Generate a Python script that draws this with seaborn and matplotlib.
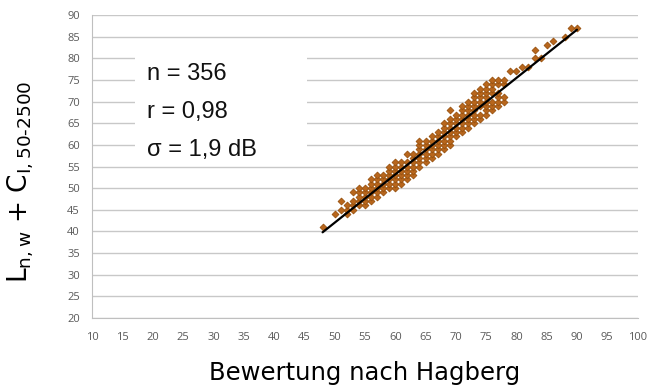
import matplotlib
matplotlib.use("Agg")
import numpy as np
import pandas as pd
import seaborn as sns
import matplotlib.pyplot as plt
from matplotlib.patches import Rectangle

# ---- data (overlapping duplicates not repeated) ----
hagberg = [48,
           50,
           51, 51,
           52, 52, 52,
           53, 53, 53, 53,
           54, 54, 54, 54, 54,
           55, 55, 55, 55, 55,
           56, 56, 56, 56, 56, 56,
           57, 57, 57, 57, 57, 57,
           58, 58, 58, 58, 58,
           59, 59, 59, 59, 59, 59,
           60, 60, 60, 60, 60, 60, 60,
           61, 61, 61, 61, 61, 61,
           62, 62, 62, 62, 62, 62,
           63, 63, 63, 63, 63, 63,
           64, 64, 64, 64, 64, 64, 64,
           65, 65, 65, 65, 65, 65,
           66, 66, 66, 66, 66, 66,
           67, 67, 67, 67, 67, 67,
           68, 68, 68, 68, 68, 68, 68,
           69, 69, 69, 69, 69, 69, 69, 69,
           70, 70, 70, 70, 70, 70,
           71, 71, 71, 71, 71, 71, 71,
           72, 72, 72, 72, 72, 72, 72,
           73, 73, 73, 73, 73, 73, 73, 73,
           74, 74, 74, 74, 74, 74, 74,
           75, 75, 75, 75, 75, 75, 75, 75,
           76, 76, 76, 76, 76, 76, 76,
           77, 77, 77, 77, 77, 77,
           78, 78, 78, 78,
           79, 80, 81, 82,
           83, 83,
           84, 85, 86, 88, 89, 90]
ln_ci = [41,
         44,
         45, 47,
         44, 45, 46,
         45, 46, 47, 49,
         46, 47, 48, 49, 50,
         46, 47, 48, 49, 50,
         47, 48, 49, 50, 51, 52,
         48, 49, 50, 51, 52, 53,
         49, 50, 51, 52, 53,
         50, 51, 52, 53, 54, 55,
         50, 51, 52, 53, 54, 55, 56,
         51, 52, 53, 54, 55, 56,
         52, 53, 54, 55, 56, 58,
         53, 54, 55, 56, 57, 58,
         55, 56, 57, 58, 59, 60, 61,
         56, 57, 58, 59, 60, 61,
         57, 58, 59, 60, 61, 62,
         58, 59, 60, 61, 62, 63,
         59, 60, 61, 62, 63, 64, 65,
         60, 61, 62, 63, 64, 65, 66, 68,
         62, 63, 64, 65, 66, 67,
         63, 64, 65, 66, 67, 68, 69,
         64, 65, 66, 67, 68, 69, 70,
         65, 66, 67, 68, 69, 70, 71, 72,
         66, 67, 69, 70, 71, 72, 73,
         67, 68, 69, 70, 71, 72, 73, 74,
         68, 69, 70, 72, 73, 74, 75,
         69, 70, 71, 72, 74, 75,
         70, 71, 74, 75,
         77, 77, 78, 78,
         80, 82,
         80, 83, 84, 85, 87, 87]
fit_x = [48, 90]
fit_y = [39.8, 86.6]
x_ticks = list(range(10, 101, 5))
y_ticks = list(range(20, 91, 5))
stats_lines = ["n = 356", "r = 0,98", "σ = 1,9 dB"]

df = pd.DataFrame({"x": hagberg, "y": ln_ci})
fit = pd.DataFrame({"x": fit_x, "y": fit_y})

sns.set_theme(style="white")
plt.rcParams["font.family"] = ["DejaVu Sans"]

fig = plt.figure(figsize=(6.48, 3.85), dpi=100)
ax = fig.add_axes([0.1427, 0.174, 0.9838 - 0.1427, 0.961 - 0.174])

ax.set_xlim(10, 100)
ax.set_ylim(20, 90)
ax.set_xticks(x_ticks)
ax.set_yticks(y_ticks)
ax.yaxis.grid(True, color="#c8c8c8", linewidth=1.0)
ax.xaxis.grid(False)
ax.set_axisbelow(True)

# white box behind the statistics
ax.add_patch(Rectangle((17.0, 55.9), 28.5, 28.4, facecolor="white",
                       edgecolor="none", zorder=1.5))

sns.scatterplot(data=df, x="x", y="y", ax=ax, marker="D", s=12,
                color="#b8661c", edgecolor="#98510f", linewidth=0.6,
                zorder=3, legend=False)
sns.lineplot(data=fit, x="x", y="y", ax=ax, color="black", linewidth=1.6,
             zorder=4)

for lab in ax.get_xticklabels() + ax.get_yticklabels():
    lab.set_fontfamily("Open Sans")
    lab.set_fontsize(8)
    lab.set_color("#595959")
ax.tick_params(axis="both", which="both", length=4, width=0.8,
               color="#bfbfbf", direction="out", pad=5)
ax.tick_params(axis="x", pad=6)

for side in ["top", "right"]:
    ax.spines[side].set_visible(False)
for side in ["left", "bottom"]:
    ax.spines[side].set_color("#bfbfbf")
    ax.spines[side].set_linewidth(0.8)

ax.set_xlabel("Bewertung nach Hagberg", fontsize=17.5, color="black",
              labelpad=13)
ax.set_ylabel("$\\mathregular{L_{n,w}}$ + $\\mathregular{C_{I,50\u20102500}}$",
              fontsize=19, color="black")
ax.yaxis.set_label_coords(-0.104, 0.45)

ys = [76.4, 67.6, 58.8]
for txt, yv in zip(stats_lines, ys):
    ax.text(19.0, yv, txt, fontsize=17, family="Liberation Sans",
            va="center", ha="left", color="#111111", zorder=5)

fig.savefig("out.png", dpi=100)
